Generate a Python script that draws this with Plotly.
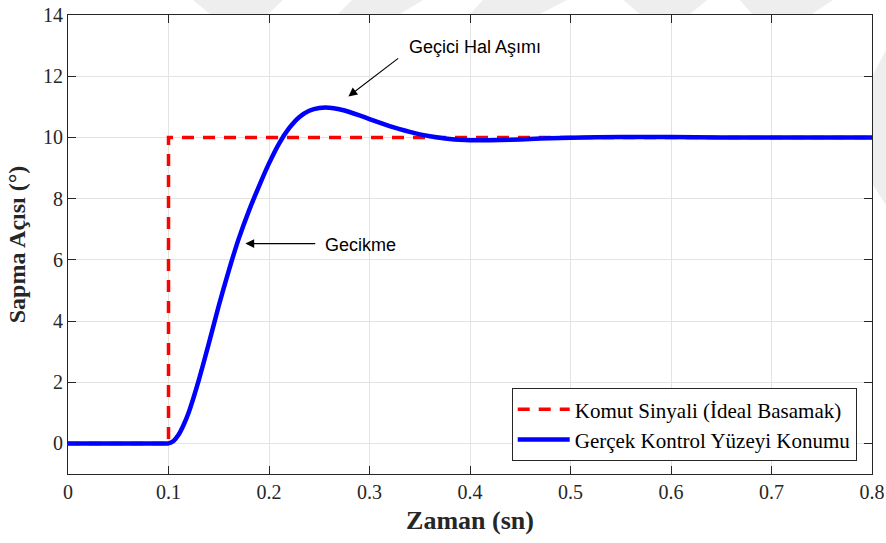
import plotly.graph_objects as go

# Command signal (ideal step at t = 0.1 s)
cmd_t = [0.0, 0.1, 0.1, 0.8]
cmd_deg = [0.0, 0.0, 10.0, 10.0]

# Measured control-surface position
pos_t = [0.00, 0.05, 0.09, 0.10, 0.105, 0.11, 0.115, 0.12, 0.13, 0.14, 0.15, 0.16, 0.17,
         0.18, 0.19, 0.20, 0.21, 0.22, 0.23, 0.24, 0.25, 0.26, 0.27, 0.28, 0.29,
         0.30, 0.31, 0.32, 0.33, 0.34, 0.35, 0.36, 0.37, 0.38, 0.39, 0.40, 0.42,
         0.44, 0.46, 0.48, 0.50, 0.55, 0.60, 0.65, 0.70, 0.80]
pos_deg = [0.0, 0.0, 0.0, 0.0, 0.08, 0.28, 0.6, 1.0, 2.05, 3.25, 4.5, 5.65, 6.7,
           7.6, 8.4, 9.15, 9.8, 10.3, 10.66, 10.87, 10.96, 10.97, 10.92, 10.83, 10.72,
           10.6, 10.48, 10.37, 10.27, 10.18, 10.1, 10.04, 9.99, 9.95, 9.925, 9.91, 9.905,
           9.92, 9.95, 9.97, 9.99, 10.01, 10.01, 10.0, 10.0, 10.0]

x_ticks = [0, 0.1, 0.2, 0.3, 0.4, 0.5, 0.6, 0.7, 0.8]
x_tick_text = ["0", "0.1", "0.2", "0.3", "0.4", "0.5", "0.6", "0.7", "0.8"]
y_ticks = [0, 2, 4, 6, 8, 10, 12, 14]

SERIF = "Liberation Serif, Times New Roman, serif"
SANS = "Liberation Sans, Arial, sans-serif"
AXIS = "#262626"

fig = go.Figure()
fig.add_trace(go.Scatter(
    x=cmd_t, y=cmd_deg, mode="lines",
    name="Komut Sinyali (İdeal Basamak)",
    line=dict(color="#ff0000", width=3.5, dash="12px,9px"),
))
fig.add_trace(go.Scatter(
    x=pos_t, y=pos_deg, mode="lines",
    name="Gerçek Kontrol Yüzeyi Konumu",
    line=dict(color="#0000ff", width=4.5, shape="spline", smoothing=0.5),
))

# faint background logo stripes in the page margins
W, H = 886, 543
L, R, T, B = 68, 14, 15, 69
pw, ph = W - L - R, H - T - B


def to_paper(px, py):
    return (px - L) / pw, (H - B - py) / ph


stripes = [
    [(193, 0), (283, 0), (268, 14), (210, 14)],
    [(352, 0), (423, 0), (400, 14), (338, 14)],
    [(483, 0), (567, 0), (540, 14), (470, 14)],
    [(623, 0), (707, 0), (690, 14), (640, 14)],
    [(740, 0), (833, 0), (812, 14), (752, 14)],
    [(873, 75), (886, 50), (886, 205), (873, 185)],
]
shapes = []
for poly in stripes:
    pts = [to_paper(*p) for p in poly]
    path = "M " + " L ".join(f"{x:.4f},{y:.4f}" for x, y in pts) + " Z"
    shapes.append(dict(type="path", path=path, xref="paper", yref="paper",
                       fillcolor="#eeeeee", line=dict(width=0), layer="below"))

annotations = [
    # overshoot arrow
    dict(x=0.279, y=11.34, ax=0.330, ay=12.62, xref="x", yref="y",
         axref="x", ayref="y", text="", showarrow=True,
         arrowhead=2, arrowsize=1.6, arrowwidth=1.1, arrowcolor="#000000"),
    dict(x=0.4045, y=12.97, xref="x", yref="y", text="Geçici Hal Aşımı",
         showarrow=False, font=dict(family=SANS, size=18, color="#000000")),
    # delay arrow
    dict(x=0.1765, y=6.53, ax=0.2475, ay=6.53, xref="x", yref="y",
         axref="x", ayref="y", text="", showarrow=True,
         arrowhead=2, arrowsize=1.6, arrowwidth=1.1, arrowcolor="#000000"),
    dict(x=0.2906, y=6.47, xref="x", yref="y", text="Gecikme",
         showarrow=False, font=dict(family=SANS, size=18, color="#000000")),
]

axis_common = dict(
    showline=True, linecolor=AXIS, linewidth=1, mirror="ticks",
    ticks="inside", ticklen=8, tickcolor=AXIS, tickwidth=1,
    showgrid=True, gridcolor="#e3e3e3", gridwidth=1, zeroline=False,
    automargin=False,
    tickfont=dict(family=SERIF, size=20, color="#262626"),
)

fig.update_layout(
    width=W, height=H,
    margin=dict(l=L, r=R, t=T, b=B),
    paper_bgcolor="#ffffff", plot_bgcolor="#ffffff",
    shapes=shapes, annotations=annotations,
    xaxis=dict(range=[0, 0.8], tickvals=x_ticks, ticktext=x_tick_text,
               title=dict(text="<b>Zaman (sn)</b>", standoff=8,
                          font=dict(family=SERIF, size=26, color="#262626")),
               **axis_common),
    yaxis=dict(range=[-1, 14], tickvals=y_ticks,
               title=dict(text="<b>Sapma Açısı (°)</b>", standoff=10,
                          font=dict(family=SERIF, size=24, color="#262626")),
               **axis_common),
    legend=dict(x=0.981, y=0.028, xanchor="right", yanchor="bottom",
                bgcolor="#ffffff", bordercolor=AXIS, borderwidth=1,
                font=dict(family=SERIF, size=21, color="#000000"),
                tracegroupgap=0, itemwidth=52),
    showlegend=True,
)

fig.write_html("out.html")
